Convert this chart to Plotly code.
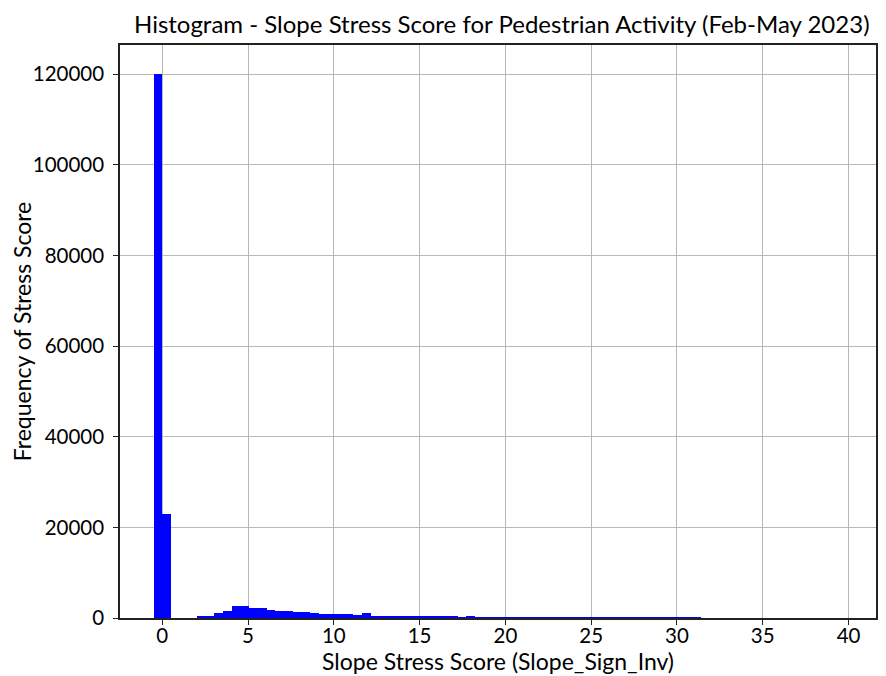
import plotly.graph_objects as go

# Histogram bins: start and width (score units), 80 bins
bin_start = -0.5
bin_width = 0.506
counts = [
    120000, 23000, 0, 0, 0, 400, 420, 1150, 1500, 2600,
    2550, 2150, 2100, 1750, 1500, 1500, 1400, 1350, 1000, 950,
    950, 900, 900, 600, 1000, 550, 520, 500, 480, 470,
    450, 440, 430, 420, 400, 150, 450, 60, 40, 30,
    25, 20, 20, 15, 15, 12, 10, 10, 8, 8,
    6, 6, 5, 5, 4, 4, 3, 3, 3, 2,
    2, 2, 2, 1, 1, 1, 1, 1, 1, 1,
    1, 1, 1, 1, 1, 1, 1, 1, 1, 1,
]
x_ticks = [0, 5, 10, 15, 20, 25, 30, 35, 40]
y_ticks = [0, 20000, 40000, 60000, 80000, 100000, 120000]

centers = [bin_start + (i + 0.5) * bin_width for i in range(len(counts))]

FONT = "Lato"

fig = go.Figure(go.Bar(
    x=centers, y=counts, width=bin_width,
    marker=dict(color="#0000ff", line=dict(width=0)),
))

axis_common = dict(
    showline=True, mirror=True, linecolor="#222222", linewidth=1.5,
    ticks="outside", ticklen=5, tickcolor="#222222", tickwidth=1.2,
    showgrid=True, gridcolor="#b8b8b8", gridwidth=1.2, zeroline=False,
    tickfont=dict(family=FONT, size=20.5, color="#000000"),
)

fig.update_layout(
    width=878, height=668,
    margin=dict(l=112, r=8, t=37, b=58),
    paper_bgcolor="white", plot_bgcolor="white",
    bargap=0, showlegend=False,
    title=dict(
        text="Histogram - Slope Stress Score for Pedestrian Activity (Feb-May 2023)",
        xref="paper", x=0.505, xanchor="center",
        yref="container", y=0.975, yanchor="middle",
        font=dict(family=FONT, size=24, color="#000000"),
    ),
    xaxis=dict(
        range=[-2.46, 41.6], tickvals=x_ticks, ticklabelstandoff=-6,
        title=dict(text="Slope Stress Score (Slope_Sign_Inv)",
                   font=dict(family=FONT, size=23, color="#000000"), standoff=2),
        **axis_common,
    ),
    yaxis=dict(
        range=[0, 126400], tickvals=y_ticks, tickformat="d", ticklabelstandoff=5,
        title=dict(text="Frequency of Stress Score",
                   font=dict(family=FONT, size=23, color="#000000"), standoff=0),
        **axis_common,
    ),
)

fig.write_html("out.html")
